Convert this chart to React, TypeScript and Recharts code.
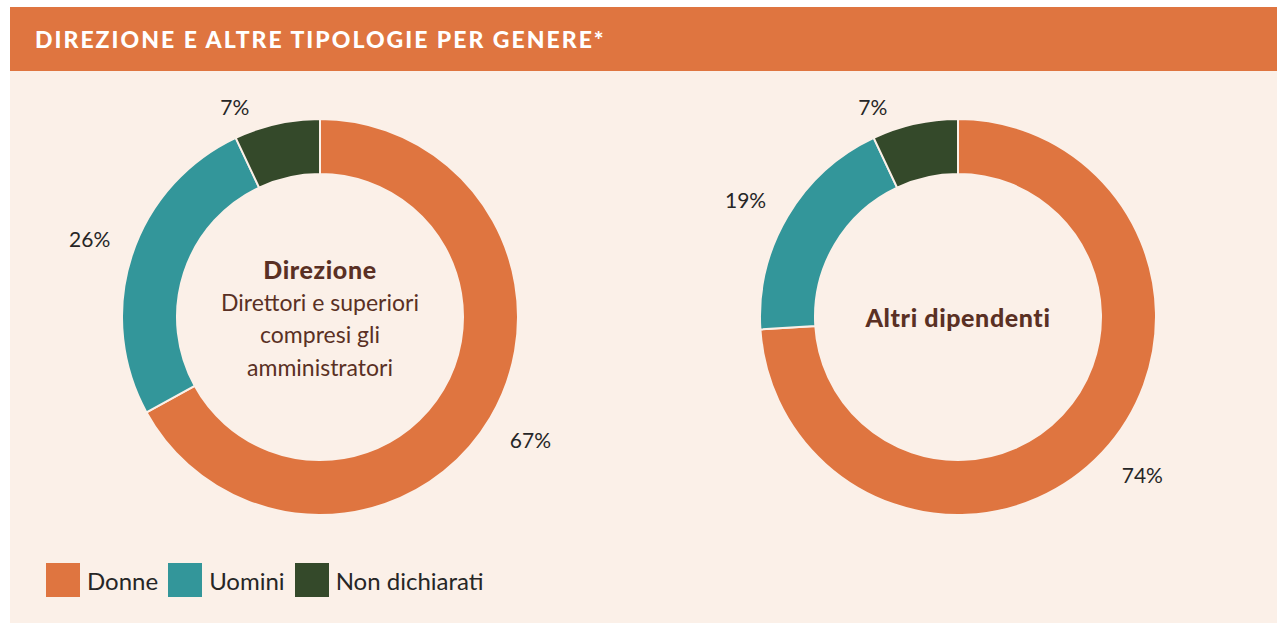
import React from "react";
import { PieChart, Pie, Cell } from "recharts";

const categories = ["Donne", "Uomini", "Non dichiarati"];
const direzioneValues = [67, 26, 7];
const altriValues = [74, 19, 7];
const colors = ["#df7540", "#33969a", "#34492a"];

const direzioneData = categories.map((name, i) => ({ name, value: direzioneValues[i] }));
const altriData = categories.map((name, i) => ({ name, value: altriValues[i] }));

const RADIAN = Math.PI / 180;
const FONT = "Lato, 'Open Sans', sans-serif";

const renderLabel = (props: any) => {
  const { cx, cy, midAngle, outerRadius, value } = props;
  const c = Math.cos(-midAngle * RADIAN);
  const s = Math.sin(-midAngle * RADIAN);
  const px = cx + outerRadius * c;
  const py = cy + outerRadius * s;
  const x = px + (c >= 0 ? 40 : -42);
  const y = py + (s >= 0 ? 22 : -17);
  return (
    <text
      x={x}
      y={y}
      textAnchor="middle"
      dominantBaseline="central"
      fill="#262626"
      fontSize={21}
      fontFamily={FONT}
    >
      {`${value}%`}
    </text>
  );
};

const brown = "#5a3024";

export default function App() {
  return (
    <div
      style={{
        position: "absolute",
        left: 0,
        top: 0,
        width: 1277,
        height: 623,
        background: "#ffffff",
        fontFamily: FONT,
        overflow: "hidden",
      }}
    >
      <div
        style={{
          position: "absolute",
          left: 10,
          top: 7,
          width: 1267,
          height: 64,
          background: "#df7540",
        }}
      />
      <div
        style={{
          position: "absolute",
          left: 35,
          top: 25,
          color: "#ffffff",
          fontSize: 23,
          fontWeight: 900,
          lineHeight: "28px",
          letterSpacing: 2,
          whiteSpace: "nowrap",
        }}
      >
        DIREZIONE E ALTRE TIPOLOGIE PER GENERE*
      </div>
      <div
        style={{
          position: "absolute",
          left: 10,
          top: 71,
          width: 1267,
          height: 552,
          background: "#fbf0e8",
        }}
      />
      <div style={{ position: "absolute", left: 0, top: 0 }}>
        <PieChart width={1277} height={623} margin={{ top: 0, right: 0, bottom: 0, left: 0 }}>
          <Pie
            data={direzioneData}
            dataKey="value"
            nameKey="name"
            cx={320}
            cy={317}
            innerRadius={143}
            outerRadius={198}
            startAngle={90}
            endAngle={-270}
            stroke="#fbf0e8"
            strokeWidth={2}
            label={renderLabel}
            labelLine={false}
            isAnimationActive={false}
          >
            {direzioneData.map((d, i) => (
              <Cell key={d.name} fill={colors[i]} />
            ))}
          </Pie>
          <Pie
            data={altriData}
            dataKey="value"
            nameKey="name"
            cx={958}
            cy={317}
            innerRadius={143}
            outerRadius={198}
            startAngle={90}
            endAngle={-270}
            stroke="#fbf0e8"
            strokeWidth={2}
            label={renderLabel}
            labelLine={false}
            isAnimationActive={false}
          >
            {altriData.map((d, i) => (
              <Cell key={d.name} fill={colors[i]} />
            ))}
          </Pie>
        </PieChart>
      </div>
      <div
        style={{
          position: "absolute",
          left: 170,
          width: 300,
          top: 253,
          textAlign: "center",
          color: brown,
          fontSize: 23,
          lineHeight: "32.5px",
          whiteSpace: "nowrap",
        }}
      >
        <div style={{ fontWeight: 900, fontSize: 25, letterSpacing: 0.6 }}>Direzione</div>
        <div>Direttori e superiori</div>
        <div>compresi gli</div>
        <div>amministratori</div>
      </div>
      <div
        style={{
          position: "absolute",
          left: 808,
          width: 300,
          top: 301,
          textAlign: "center",
          color: brown,
          fontSize: 25,
          fontWeight: 900,
          letterSpacing: 0.6,
          lineHeight: "32px",
          whiteSpace: "nowrap",
        }}
      >
        Altri dipendenti
      </div>
      <div
        style={{
          position: "absolute",
          left: 46,
          top: 563,
          display: "flex",
          alignItems: "center",
          height: 34,
        }}
      >
        {categories.map((c, i) => (
          <div key={c} style={{ display: "flex", alignItems: "center", marginRight: 10 }}>
            <div style={{ width: 34, height: 34, background: colors[i], marginRight: 7 }} />
            <span style={{ fontSize: 24, color: "#262626" }}>{c}</span>
          </div>
        ))}
      </div>
    </div>
  );
}
